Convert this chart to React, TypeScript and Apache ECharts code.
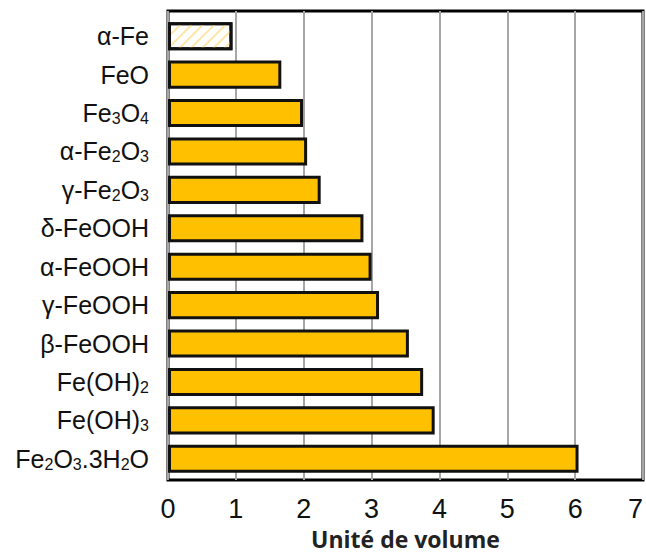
import React, { useEffect, useRef } from "react";
import * as echarts from "echarts";

const categories = [
  "α-Fe",
  "FeO",
  "Fe{s|3}O{s|4}",
  "α-Fe{s|2}O{s|3}",
  "γ-Fe{s|2}O{s|3}",
  "δ-FeOOH",
  "α-FeOOH",
  "γ-FeOOH",
  "β-FeOOH",
  "Fe(OH){s|2}",
  "Fe(OH){s|3}",
  "Fe{s|2}O{s|3}.3H{s|2}O",
];
const values = [0.95, 1.67, 1.99, 2.05, 2.25, 2.88, 3.0, 3.11, 3.55, 3.76, 3.93, 6.05];
const xTicks = [0, 1, 2, 3, 4, 5, 6, 7];
const xTitle = "Unité de volume";

export default function App() {
  const ref = useRef<HTMLDivElement>(null);
  useEffect(() => {
    document.body.style.margin = "0";
    const chart = echarts.init(ref.current!, null, { renderer: "svg" });
    const data = values.map((v, i) =>
      i === 0
        ? {
            value: v,
            itemStyle: {
              color: "#ffffff",
              decal: {
                symbol: "rect",
                color: "#FFE6A6",
                dashArrayX: [1, 0],
                dashArrayY: [2, 6],
                rotation: -Math.PI / 4,
              },
            },
          }
        : { value: v }
    );
    chart.setOption({
      animation: false,
      grid: [
        {
          left: 168,
          right: 3,
          top: 11,
          bottom: 70,
          show: true,
          borderColor: "#000",
          borderWidth: 3,
          backgroundColor: "#fff",
        },
        { left: 168, right: 3, top: 17, bottom: 77 },
      ],
      xAxis: [
        {
          gridIndex: 0,
          type: "value",
          min: 0,
          max: 7,
          interval: 1,
          name: xTitle,
          nameLocation: "middle",
          nameGap: 44,
          nameTextStyle: {
            fontFamily: "Open Sans",
            fontWeight: "bold",
            fontSize: 23,
            color: "#222",
          },
          axisLine: { show: false },
          axisTick: { show: false },
          axisLabel: {
            margin: 15,
            fontFamily: "Liberation Sans",
            fontSize: 27,
            color: "#111",
            alignMaxLabel: "right",
            formatter: (v: number) => (xTicks.includes(v) ? String(v) : ""),
          },
          splitLine: { show: true, lineStyle: { color: "#a6a6a6", width: 2 } },
        },
        {
          gridIndex: 1,
          type: "value",
          min: 0,
          max: 7,
          interval: 1,
          show: false,
          splitLine: { show: false },
        },
      ],
      yAxis: [
        {
          gridIndex: 0,
          type: "category",
          data: categories,
          show: false,
        },
        {
          gridIndex: 1,
          type: "category",
          data: categories,
          inverse: true,
          axisLine: { show: false },
          axisTick: { show: false },
          axisLabel: {
            margin: 19,
            fontFamily: "Liberation Sans",
            fontSize: 25,
            color: "#111",
            rich: {
              s: { fontFamily: "Liberation Sans", fontSize: 16, color: "#111", padding: [11, 0, 0, 0] },
            },
          },
        },
      ],
      series: [
        {
          type: "bar",
          xAxisIndex: 1,
          yAxisIndex: 1,
          data,
          barCategoryGap: "27%",
          itemStyle: { color: "#FFC000", borderColor: "#111", borderWidth: 3 },
        },
      ],
    });
    return () => chart.dispose();
  }, []);
  return <div ref={ref} style={{ width: 646, height: 555 }} />;
}
